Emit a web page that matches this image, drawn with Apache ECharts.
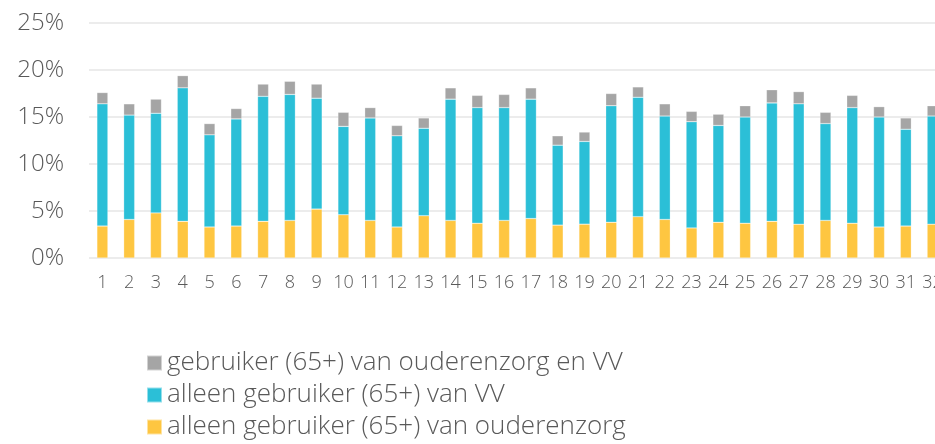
<!DOCTYPE html>
<html>
<head>
<meta charset="utf-8">
<script src="https://cdn.jsdelivr.net/npm/echarts@6/dist/echarts.min.js"></script>
<style>
  html, body { margin: 0; padding: 0; background: #fff; }
  #chart { width: 935px; height: 444px; }
</style>
</head>
<body>
<div id="chart"></div>
<script>
const categories = ['1', '2', '3', '4', '5', '6', '7', '8', '9', '10', '11', '12', '13', '14', '15', '16',
  '17', '18', '19', '20', '21', '22', '23', '24', '25', '26', '27', '28', '29', '30', '31', '32']

// aandeel in %, per segment
const ouderenzorg = [3.4, 4.1, 4.8, 3.9, 3.3, 3.4, 3.9, 4.0, 5.2, 4.6, 4.0, 3.3, 4.5, 4.0, 3.7, 4.0,
  4.2, 3.5, 3.6, 3.8, 4.4, 4.1, 3.2, 3.8, 3.7, 3.9, 3.6, 4.0, 3.7, 3.3, 3.4, 3.6]
const alleenVV = [13.0, 11.1, 10.6, 14.2, 9.8, 11.4, 13.3, 13.4, 11.8, 9.4, 10.9, 9.7, 9.3, 12.9, 12.3, 12.0,
  12.7, 8.5, 8.8, 12.4, 12.7, 11.0, 11.3, 10.3, 11.3, 12.6, 12.8, 10.3, 12.3, 11.7, 10.3, 11.5]
const beide = [1.2, 1.2, 1.5, 1.3, 1.2, 1.1, 1.3, 1.4, 1.5, 1.5, 1.1, 1.1, 1.1, 1.2, 1.3, 1.4,
  1.2, 1.0, 1.0, 1.3, 1.1, 1.3, 1.1, 1.2, 1.2, 1.4, 1.3, 1.2, 1.3, 1.1, 1.2, 1.1]

const seriesNames = [
  'alleen gebruiker (65+) van ouderenzorg',
  'alleen gebruiker (65+) van VV',
  'gebruiker (65+) van ouderenzorg en VV',
]

const font = 'Open Sans'
const textColor = '#595959'

const chart = echarts.init(document.getElementById('chart'))

function barSeries(name, data, color) {
  return {
    name: name,
    type: 'bar',
    stack: 'totaal',
    barWidth: 11,
    data: data,
    itemStyle: { color: color, borderColor: 'rgba(255,255,255,0.5)', borderWidth: 0.5 },
  }
}

const option = {
  animation: false,
  grid: {
    left: 89,
    width: 857,
    top: 23,
    bottom: 186,
    outerBoundsMode: 'none',
  },
  legend: {
    orient: 'vertical',
    left: 146,
    top: 350,
    height: 94,
    padding: 0,
    icon: 'rect',
    itemWidth: 15,
    itemHeight: 15,
    itemGap: 6,
    data: [seriesNames[2], seriesNames[1], seriesNames[0]],
    textStyle: {
      fontFamily: font,
      fontWeight: 300,
      fontSize: 26,
      lineHeight: 26,
      color: textColor,
      padding: [0, 0, 0, 0],
    },
  },
  xAxis: {
    type: 'category',
    data: categories,
    axisLine: { show: false },
    axisTick: { show: false },
    axisLabel: {
      margin: 16,
      fontFamily: font,
      fontWeight: 300,
      fontSize: 18,
      color: textColor,
      interval: 0,
    },
  },
  yAxis: {
    type: 'value',
    min: 0,
    max: 25,
    interval: 5,
    axisLine: { show: false },
    axisTick: { show: false },
    splitLine: { lineStyle: { color: '#e6e6e6', width: 1.5 } },
    axisLabel: {
      formatter: '{value}%',
      margin: 25,
      fontFamily: font,
      fontWeight: 300,
      fontSize: 24,
      color: textColor,
    },
  },
  series: [
    barSeries(seriesNames[0], ouderenzorg, '#fec641'),
    barSeries(seriesNames[1], alleenVV, '#2bbfd7'),
    barSeries(seriesNames[2], beide, '#a5a5a5'),
  ],
}

chart.setOption(option)
</script>
</body>
</html>
